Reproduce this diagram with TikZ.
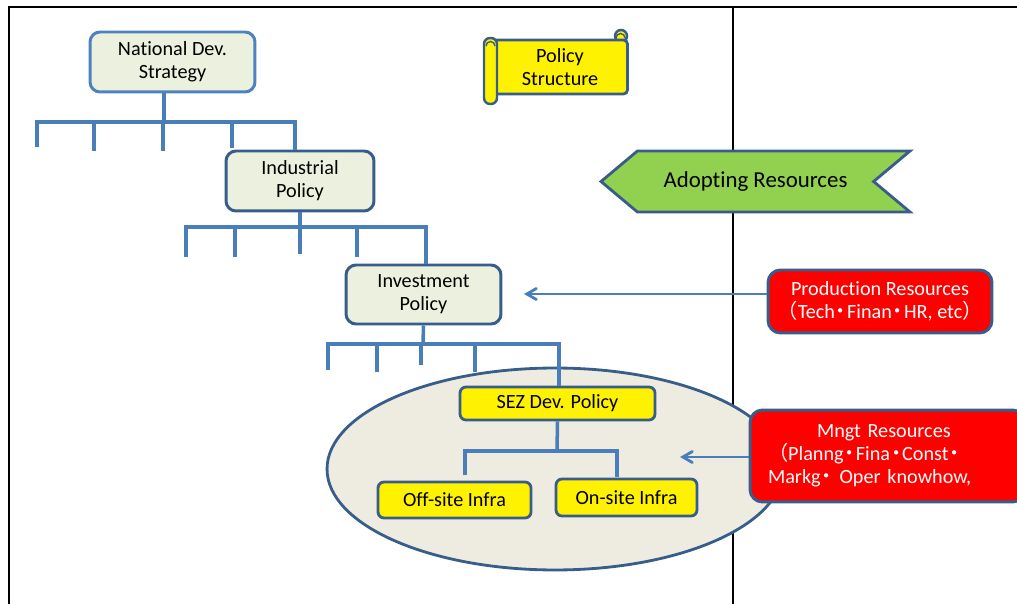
\documentclass[tikz,border=0pt]{standalone}
\usepackage{fontspec}
\setmainfont{Carlito}[Ligatures=NoCommon]
\newfontfamily\cjk{Noto Sans CJK JP}
\usepackage{xcolor}
\usepackage{tikz}
\usetikzlibrary{arrows, positioning, shapes.geometric, shapes.symbols}

\definecolor{lineblue}{HTML}{4A7EBB}
\definecolor{lightblue}{HTML}{4F81BD}
\definecolor{darkblue}{HTML}{385D8A}
\definecolor{boxfill}{HTML}{EBF1DE}
\definecolor{ovalfill}{HTML}{EEECE1}
\definecolor{arrowgreen}{HTML}{92D050}
\newcommand{\middot}{{\cjk\hspace{-0.2em}・\hspace{-0.2em}}}

\begin{document}
\begin{tikzpicture}[x=0.02cm, y=-0.02cm]
    \tikzset{policy/.style = {shape=rectangle, rounded corners=0.2cm, draw=darkblue, line width=1.7pt,
        fill=boxfill, align=center, font=\fontsize{11.5}{13}\selectfont}}
    \tikzset{sezbox/.style = {shape=rectangle, rounded corners=0.12cm, draw=darkblue, line width=1.6pt,
        fill=yellow, align=center, font=\fontsize{11.5}{13}\selectfont}}
    \tikzset{resource/.style = {shape=rectangle, rounded corners=0.25cm, draw=darkblue, line width=1.7pt,
        fill=red, text=white, font=\fontsize{11.5}{13}\selectfont}}
    \tikzset{branch/.style = {draw=lineblue, line width=2pt}}
    \tikzset{edge/.style = {->, > = angle 60, draw=lineblue, line width=1.6pt}}
    \clip (0,0) rectangle (1017,604);
    % frame
    \draw[line width=1.2pt] (9,604) -- (9,7) -- (1017,7);
    \draw[line width=1.2pt] (733,7) -- (733,604);
    % SEZ zone
    \node[ellipse, draw=darkblue, line width=1.6pt, fill=ovalfill, minimum width=9.12cm, minimum height=4.04cm] (zone) at (555,469) {};
    % policy boxes
    \node[policy, draw=lightblue, minimum width=3.3cm, minimum height=1.2cm] (nds) at (172.5,62) {National Dev.\\Strategy};
    \node[policy, minimum width=2.96cm, minimum height=1.2cm] (ind) at (300,181) {Industrial\\Policy};
    \node[policy, minimum width=3.1cm, minimum height=1.18cm] (inv) at (423.5,294.5) {Investment\\Policy};
    \node[sezbox, minimum width=3.9cm, minimum height=0.66cm] (sez) at (557.5,403.5) {SEZ Dev. Policy};
    \node[sezbox, minimum width=3.06cm, minimum height=0.72cm] (off) at (454.5,500) {Off-site Infra};
    \node[sezbox, minimum width=2.82cm, minimum height=0.74cm] (on) at (626.5,497.5) {On-site Infra};
    % policy structure scroll
    \draw[darkblue, line width=1.4pt, fill=yellow] (621,36) circle (0.12cm);
    \node[sezbox, rounded corners=0.08cm, minimum width=2.7cm, minimum height=1.08cm] (pol) at (560,67) {Policy\\Structure};
    \draw[darkblue, line width=1.4pt, fill=yellow, rounded corners=0.12cm] (484,38) rectangle (497,104);
    \draw[darkblue, line width=0.8pt] (486,46) arc (180:0:0.09cm);
    \draw[darkblue, line width=0.8pt] (616,38) arc (180:0:0.09cm);
    % adopting resources
    \node[signal, signal to=west, signal from=east, signal pointer angle=80, draw=darkblue, line width=1.6pt,
        fill=arrowgreen, minimum width=6.18cm, minimum height=1.22cm, font=\fontsize{13}{15}\selectfont] (adopt) at (755.5,181.5) {Adopting Resources};
    % resources
    \node[resource, align=center, minimum width=4.48cm, minimum height=1.26cm] (prod) at (880,301.5)
        {Production Resources\\{\cjk （}Tech\middot Finan\middot HR, etc{\cjk ）}};
    \node[resource, align=left, text width=4.78cm, inner xsep=0.36cm, minimum height=1.84cm] (mng) at (887.5,456)
        {\hspace*{0.98cm}Mngt Resources\\{\cjk （}Planng\middot Fina\middot Const\middot\\Markg\middot\ Oper knowhow,};
    \coordinate (invin) at (524,294);
    \coordinate (zonein) at (680,457);
    %edges
    \draw[branch] (nds.south -| 164,0) -- (164,122);
    \draw[branch] (37,147) -- (37,122) -- (295,122) -- (ind.north -| 295,0);
    \draw[branch] (94,122) -- (94,151);
    \draw[branch] (163,122) -- (163,151);
    \draw[branch] (232,122) -- (232,148);
    \draw[branch] (ind.south) -- (300,227);
    \draw[branch] (186,257) -- (186,227) -- (426,227) -- (inv.north -| 426,0);
    \draw[branch] (235,227) -- (235,257);
    \draw[branch] (300,227) -- (300,254);
    \draw[branch] (357,227) -- (357,257);
    \draw[branch] (inv.south) -- (423,344);
    \draw[branch] (328,370) -- (328,344) -- (559,344) -- (sez.north -| 559,0);
    \draw[branch] (377,344) -- (377,372);
    \draw[branch] (421,344) -- (421,365);
    \draw[branch] (475,344) -- (475,372);
    \draw[branch] (sez.south) -- (557,451);
    \draw[branch] (465,475) -- (465,451) -- (617,451) -- (617,477);
    \draw[edge] (prod.west |- invin) -- (invin);
    \draw[edge] (mng.west |- zonein) -- (zonein);
\end{tikzpicture}
\end{document}
